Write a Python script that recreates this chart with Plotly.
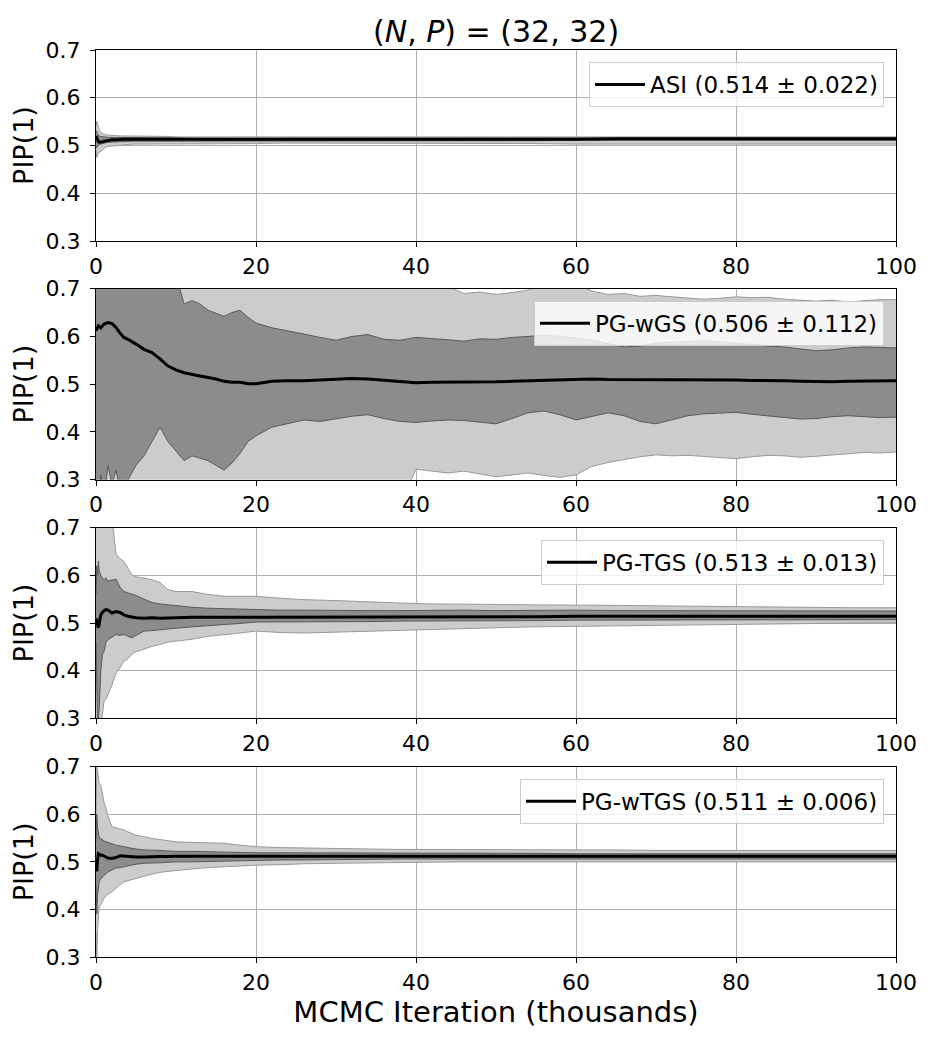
import plotly.graph_objects as go

x_a = [0, 0.1, 0.2, 0.3, 0.4, 0.6, 0.8, 1, 1.25, 1.5, 2, 2.5, 3, 3.5, 4, 4.5, 5, 6, 7, 8, 9, 10,
       12, 14, 16, 18, 20, 23, 26, 30, 34, 38, 42, 46, 50, 55, 60, 65, 70, 75, 80, 85, 90, 95, 100]
x_b = [0, 0.3, 0.6, 1, 1.5, 2, 2.5, 3, 3.5, 4, 5, 6, 7, 8, 9, 10, 11, 12, 13, 14, 15, 16, 17, 18, 19, 20,
       22, 24, 26, 28, 30, 32, 34, 36, 38, 40, 42, 44, 46, 48, 50, 52, 54, 56, 58, 60, 62, 64, 66, 68, 70,
       72, 74, 76, 78, 80, 82, 84, 86, 88, 90, 92, 94, 96, 98, 100]

# ASI
asi_mean = [0.52, 0.515, 0.51, 0.508, 0.507, 0.507, 0.508, 0.509, 0.51, 0.511, 0.512, 0.512, 0.513, 0.513, 0.513,
            0.513, 0.513, 0.513, 0.513, 0.513, 0.513, 0.512, 0.512, 0.512, 0.512, 0.512, 0.512, 0.512, 0.512, 0.512,
            0.512, 0.512, 0.512, 0.512, 0.512, 0.513, 0.513, 0.514, 0.514, 0.514, 0.514, 0.514, 0.514, 0.514, 0.514]
asi_dark_hi = [0.53, 0.53, 0.525, 0.522, 0.52, 0.519, 0.518, 0.518, 0.518, 0.517, 0.517, 0.517, 0.517, 0.516, 0.516,
               0.516, 0.516, 0.516, 0.516, 0.516, 0.516, 0.516, 0.515, 0.515, 0.515, 0.515, 0.515, 0.515, 0.515, 0.515,
               0.515, 0.515, 0.515, 0.515, 0.515, 0.516, 0.516, 0.516, 0.516, 0.516, 0.516, 0.516, 0.516, 0.516, 0.516]
asi_dark_lo = [0.50, 0.495, 0.498, 0.50, 0.502, 0.503, 0.504, 0.505, 0.506, 0.507, 0.507, 0.508, 0.508, 0.508, 0.509,
               0.509, 0.509, 0.509, 0.509, 0.509, 0.509, 0.509, 0.509, 0.509, 0.509, 0.509, 0.509, 0.509, 0.510, 0.510,
               0.510, 0.510, 0.510, 0.510, 0.510, 0.510, 0.511, 0.511, 0.511, 0.511, 0.511, 0.511, 0.511, 0.511, 0.511]
asi_light_hi = [0.54, 0.551, 0.545, 0.537, 0.532, 0.527, 0.525, 0.523, 0.522, 0.522, 0.521, 0.521, 0.520, 0.520, 0.520,
                0.520, 0.520, 0.519, 0.519, 0.519, 0.519, 0.518, 0.518, 0.518, 0.518, 0.518, 0.518, 0.517, 0.517, 0.517,
                0.517, 0.517, 0.517, 0.517, 0.517, 0.517, 0.517, 0.517, 0.518, 0.518, 0.518, 0.518, 0.518, 0.518, 0.518]
asi_light_lo = [0.49, 0.475, 0.481, 0.485, 0.486, 0.488, 0.491, 0.494, 0.497, 0.498, 0.499, 0.500, 0.501, 0.502, 0.502,
                0.503, 0.503, 0.503, 0.503, 0.504, 0.504, 0.504, 0.504, 0.504, 0.504, 0.504, 0.504, 0.505, 0.505, 0.505,
                0.505, 0.505, 0.505, 0.505, 0.504, 0.504, 0.503, 0.503, 0.503, 0.503, 0.503, 0.503, 0.503, 0.503, 0.503]

# PG-wGS
wgs_mean = [0.612, 0.622, 0.618, 0.626, 0.629, 0.627, 0.619, 0.607, 0.598, 0.594, 0.584, 0.573, 0.566, 0.553, 0.538,
            0.530, 0.524, 0.520, 0.517, 0.514, 0.511, 0.506, 0.504, 0.504, 0.501, 0.501, 0.506, 0.507, 0.507, 0.509,
            0.511, 0.512, 0.511, 0.508, 0.505, 0.503, 0.504, 0.504, 0.505, 0.505, 0.505, 0.506, 0.507, 0.509, 0.510,
            0.511, 0.511, 0.510, 0.510, 0.509, 0.509, 0.509, 0.509, 0.509, 0.509, 0.509, 0.508, 0.508, 0.507, 0.506,
            0.505, 0.505, 0.506, 0.506, 0.506, 0.507]
wgs_dark_hi = [0.75, 0.75, 0.75, 0.75, 0.75, 0.75, 0.75, 0.75, 0.75, 0.75, 0.75, 0.75, 0.75, 0.75, 0.75,
               0.73, 0.668, 0.675, 0.668, 0.655, 0.648, 0.642, 0.650, 0.655, 0.640, 0.628, 0.618, 0.612, 0.605, 0.598,
               0.592, 0.600, 0.604, 0.594, 0.592, 0.598, 0.596, 0.593, 0.590, 0.595, 0.594, 0.598, 0.600, 0.603, 0.600,
               0.597, 0.592, 0.585, 0.578, 0.580, 0.586, 0.588, 0.590, 0.591, 0.589, 0.586, 0.582, 0.580, 0.578, 0.574,
               0.570, 0.572, 0.576, 0.578, 0.577, 0.576]
wgs_dark_lo = [0.25, 0.25, 0.31, 0.26, 0.33, 0.29, 0.32, 0.28, 0.27, 0.30, 0.33, 0.35, 0.38, 0.41, 0.38,
               0.36, 0.34, 0.35, 0.345, 0.34, 0.33, 0.32, 0.335, 0.355, 0.38, 0.392, 0.41, 0.418, 0.425, 0.422,
               0.428, 0.433, 0.436, 0.428, 0.422, 0.42, 0.423, 0.425, 0.424, 0.42, 0.417, 0.428, 0.440, 0.444, 0.436,
               0.425, 0.432, 0.440, 0.434, 0.422, 0.417, 0.425, 0.434, 0.438, 0.440, 0.441, 0.437, 0.434, 0.430, 0.427,
               0.428, 0.432, 0.434, 0.432, 0.430, 0.431]
wgs_light_hi = [0.75, 0.75, 0.75, 0.75, 0.75, 0.75, 0.75, 0.75, 0.75, 0.75, 0.75, 0.75, 0.75, 0.75, 0.75,
                0.75, 0.75, 0.75, 0.75, 0.75, 0.75, 0.75, 0.75, 0.75, 0.75, 0.75, 0.75, 0.75, 0.75, 0.75,
                0.75, 0.75, 0.75, 0.75, 0.75, 0.75, 0.75, 0.705, 0.690, 0.693, 0.688, 0.692, 0.697, 0.71, 0.72,
                0.71, 0.695, 0.688, 0.690, 0.684, 0.686, 0.683, 0.680, 0.678, 0.680, 0.683, 0.681, 0.682, 0.678, 0.676,
                0.674, 0.676, 0.672, 0.675, 0.677, 0.677]
wgs_light_lo = [0.25, 0.25, 0.25, 0.25, 0.25, 0.25, 0.25, 0.25, 0.25, 0.25, 0.25, 0.25, 0.25, 0.25, 0.25,
                0.25, 0.25, 0.25, 0.25, 0.25, 0.25, 0.25, 0.25, 0.25, 0.25, 0.25, 0.25, 0.25, 0.25, 0.25,
                0.25, 0.25, 0.25, 0.25, 0.25, 0.322, 0.318, 0.314, 0.318, 0.312, 0.306, 0.31, 0.314, 0.309, 0.305,
                0.31, 0.328, 0.336, 0.342, 0.348, 0.352, 0.350, 0.351, 0.349, 0.346, 0.344, 0.348, 0.351, 0.350, 0.347,
                0.349, 0.352, 0.355, 0.357, 0.356, 0.358]

# PG-TGS
tgs_mean = [0.51, 0.50, 0.495, 0.49, 0.497, 0.517, 0.522, 0.526, 0.528, 0.527, 0.521, 0.524, 0.522, 0.517, 0.514,
            0.512, 0.511, 0.510, 0.511, 0.510, 0.511, 0.511, 0.512, 0.512, 0.512, 0.513, 0.513, 0.513, 0.512, 0.512,
            0.513, 0.513, 0.513, 0.513, 0.513, 0.513, 0.514, 0.514, 0.514, 0.514, 0.514, 0.514, 0.514, 0.514, 0.514]
tgs_dark_hi = [0.56, 0.62, 0.60, 0.63, 0.61, 0.60, 0.595, 0.59, 0.595, 0.588, 0.59, 0.592, 0.575, 0.566, 0.563,
               0.560, 0.558, 0.55, 0.543, 0.540, 0.538, 0.536, 0.533, 0.531, 0.530, 0.528, 0.527, 0.527, 0.527, 0.526,
               0.526, 0.526, 0.527, 0.527, 0.526, 0.527, 0.527, 0.526, 0.526, 0.526, 0.525, 0.525, 0.525, 0.525, 0.525]
tgs_dark_lo = [0.46, 0.35, 0.28, 0.30, 0.32, 0.40, 0.434, 0.44, 0.46, 0.465, 0.47, 0.476, 0.474, 0.476, 0.472,
               0.469, 0.474, 0.483, 0.484, 0.486, 0.487, 0.489, 0.492, 0.494, 0.496, 0.499, 0.502, 0.502, 0.502, 0.503,
               0.503, 0.504, 0.504, 0.505, 0.505, 0.505, 0.506, 0.506, 0.506, 0.506, 0.507, 0.507, 0.507, 0.507, 0.507]
tgs_light_hi = [0.75, 0.75, 0.75, 0.75, 0.75, 0.75, 0.75, 0.75, 0.75, 0.75, 0.72, 0.645, 0.635, 0.629, 0.615,
                0.601, 0.597, 0.594, 0.591, 0.585, 0.57, 0.566, 0.566, 0.56, 0.556, 0.556, 0.556, 0.552, 0.549, 0.547,
                0.544, 0.542, 0.540, 0.540, 0.539, 0.538, 0.538, 0.537, 0.536, 0.535, 0.535, 0.534, 0.533, 0.532, 0.532]
tgs_light_lo = [0.25, 0.25, 0.25, 0.25, 0.25, 0.28, 0.31, 0.336, 0.34, 0.35, 0.37, 0.395, 0.406, 0.42, 0.425,
                0.435, 0.44, 0.445, 0.451, 0.455, 0.46, 0.462, 0.466, 0.472, 0.475, 0.479, 0.483, 0.480, 0.479, 0.481,
                0.483, 0.485, 0.486, 0.488, 0.490, 0.492, 0.493, 0.494, 0.494, 0.496, 0.497, 0.498, 0.499, 0.500, 0.501]

# PG-wTGS
wtgs_mean = [0.50, 0.48, 0.505, 0.517, 0.516, 0.514, 0.514, 0.512, 0.510, 0.508, 0.507, 0.509, 0.513, 0.512, 0.511,
             0.510, 0.510, 0.510, 0.511, 0.511, 0.511, 0.512, 0.512, 0.512, 0.512, 0.512, 0.513, 0.512, 0.512, 0.512,
             0.512, 0.512, 0.512, 0.512, 0.512, 0.512, 0.512, 0.512, 0.512, 0.512, 0.512, 0.512, 0.512, 0.512, 0.512]
wtgs_dark_hi = [0.55, 0.60, 0.57, 0.555, 0.552, 0.549, 0.546, 0.544, 0.542, 0.541, 0.538, 0.535, 0.534, 0.532, 0.530,
                0.528, 0.527, 0.525, 0.525, 0.524, 0.523, 0.522, 0.522, 0.521, 0.521, 0.520, 0.519, 0.519, 0.519, 0.518,
                0.518, 0.518, 0.518, 0.518, 0.518, 0.518, 0.517, 0.517, 0.517, 0.517, 0.517, 0.517, 0.517, 0.517, 0.517]
wtgs_dark_lo = [0.45, 0.39, 0.43, 0.45, 0.458, 0.465, 0.468, 0.472, 0.476, 0.479, 0.483, 0.487, 0.488, 0.490, 0.492,
                0.494, 0.495, 0.497, 0.497, 0.498, 0.499, 0.500, 0.500, 0.501, 0.502, 0.502, 0.503, 0.504, 0.504, 0.505,
                0.506, 0.506, 0.506, 0.506, 0.506, 0.506, 0.506, 0.506, 0.506, 0.506, 0.506, 0.506, 0.506, 0.506, 0.506]
wtgs_light_hi = [0.60, 0.70, 0.69, 0.675, 0.665, 0.661, 0.64, 0.625, 0.613, 0.595, 0.574, 0.572, 0.570, 0.567, 0.563,
                 0.560, 0.556, 0.553, 0.549, 0.547, 0.545, 0.542, 0.541, 0.540, 0.539, 0.535, 0.532, 0.530, 0.529, 0.528,
                 0.527, 0.526, 0.526, 0.526, 0.525, 0.525, 0.525, 0.525, 0.524, 0.524, 0.524, 0.524, 0.524, 0.524, 0.524]
wtgs_light_lo = [0.35, 0.29, 0.36, 0.39, 0.405, 0.41, 0.418, 0.423, 0.428, 0.432, 0.437, 0.445, 0.452, 0.458, 0.46,
                 0.462, 0.465, 0.470, 0.474, 0.478, 0.480, 0.482, 0.485, 0.488, 0.490, 0.491, 0.493, 0.494, 0.496, 0.497,
                 0.498, 0.499, 0.499, 0.500, 0.500, 0.500, 0.500, 0.500, 0.500, 0.500, 0.500, 0.500, 0.500, 0.500, 0.500]

labels = ["ASI (0.514 ± 0.022)", "PG-wGS (0.506 ± 0.112)", "PG-TGS (0.513 ± 0.013)", "PG-wTGS (0.511 ± 0.006)"]

panels = [
    (x_a, asi_mean, asi_dark_lo, asi_dark_hi, asi_light_lo, asi_light_hi),
    (x_b, wgs_mean, wgs_dark_lo, wgs_dark_hi, wgs_light_lo, wgs_light_hi),
    (x_a, tgs_mean, tgs_dark_lo, tgs_dark_hi, tgs_light_lo, tgs_light_hi),
    (x_a, wtgs_mean, wtgs_dark_lo, wtgs_dark_hi, wtgs_light_lo, wtgs_light_hi),
]
for p in panels:
    for s in p[1:]:
        assert len(s) == len(p[0]), (len(s), len(p[0]))

# page body adds an 8px margin, so the figure is 8px smaller than the window
W, H = 926, 1030
ML, MR, MT, MB = 88, 38, 42, 81
ph = H - MT - MB
tops = [42, 280.7, 519.7, 758.7]
bots = [233, 471.7, 710.3, 949]

fig = go.Figure()
font = "DejaVu Sans"

for i, (xs, mean, dlo, dhi, llo, lhi) in enumerate(panels):
    n = "" if i == 0 else str(i + 1)
    xa, ya = "x" + n, "y" + n
    leg = "legend" + n
    # light band
    fig.add_trace(go.Scatter(x=xs, y=llo, xaxis=xa, yaxis=ya, mode="lines",
                             line=dict(color="#999999", width=1), showlegend=False, hoverinfo="skip"))
    fig.add_trace(go.Scatter(x=xs, y=lhi, xaxis=xa, yaxis=ya, mode="lines", fill="tonexty",
                             fillcolor="#cccccc", line=dict(color="#999999", width=1),
                             showlegend=False, hoverinfo="skip"))
    # dark band
    fig.add_trace(go.Scatter(x=xs, y=dlo, xaxis=xa, yaxis=ya, mode="lines",
                             line=dict(color="#5a5a5a", width=1), showlegend=False, hoverinfo="skip"))
    fig.add_trace(go.Scatter(x=xs, y=dhi, xaxis=xa, yaxis=ya, mode="lines", fill="tonexty",
                             fillcolor="#8c8c8c", line=dict(color="#5a5a5a", width=1),
                             showlegend=False, hoverinfo="skip"))
    fig.add_trace(go.Scatter(x=xs, y=mean, xaxis=xa, yaxis=ya, mode="lines", name=labels[i],
                             line=dict(color="black", width=3), legend=leg))

    dom = [(H - MB - bots[i]) / ph, (H - MB - tops[i]) / ph]
    axis_common = dict(showline=True, mirror=True, linecolor="black", linewidth=1.2,
                       ticks="outside", ticklen=5, tickcolor="black",
                       showgrid=True, gridcolor="#b0b0b0", gridwidth=1, zeroline=False,
                       automargin=False, tickfont=dict(size=22, color="black"))
    fig.layout["xaxis" + n] = dict(axis_common, range=[0, 100], dtick=20, anchor=ya, domain=[0, 1],
                                   ticklabelstandoff=0)
    fig.layout["yaxis" + n] = dict(axis_common, range=[0.3, 0.7], dtick=0.1, tickformat=".1f",
                                   anchor=xa, domain=dom, ticklabelstandoff=5,
                                   title=dict(text="PIP(1)", font=dict(size=27, color="black"), standoff=5))
    fig.layout[leg] = dict(x=0.985, xanchor="right", y=(H - MB - tops[i] - 12) / ph, yanchor="top",
                           bgcolor="rgba(255,255,255,0.8)", bordercolor="#cccccc", borderwidth=1,
                           font=dict(size=23, color="black"), itemwidth=50)

fig.layout.xaxis4.title = dict(text="MCMC Iteration (thousands)", font=dict(size=29, color="black"), standoff=8)

fig.add_annotation(text="(<i>N</i>, <i>P</i>) = (32, 32)", x=0.5, xref="paper", y=1, yref="paper",
                   yanchor="middle", showarrow=False, yshift=19, font=dict(size=30, color="black"))

fig.update_layout(width=W, height=H, margin=dict(l=ML, r=MR, t=MT, b=MB),
                  plot_bgcolor="white", paper_bgcolor="white",
                  font=dict(family=font, color="black"))

fig.write_html("out.html")
